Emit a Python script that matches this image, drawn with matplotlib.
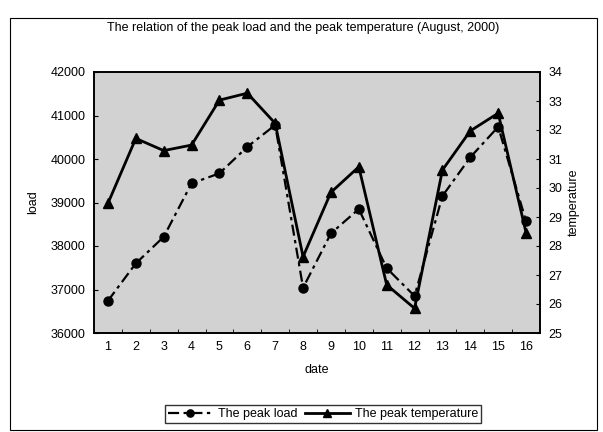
import matplotlib
matplotlib.use("Agg")
import matplotlib.pyplot as plt
from matplotlib.patches import Rectangle

plt.rcParams["font.family"] = ["Liberation Sans", "DejaVu Sans"]

dates = list(range(1, 17))
peak_load = [36740, 37600, 38210, 39440, 39670, 40280, 40780, 37040,
             38290, 38850, 37490, 36850, 39150, 40040, 40740, 38570]
peak_temp = [29.47, 31.71, 31.29, 31.48, 33.03, 33.27, 32.23, 27.63,
             29.85, 30.73, 26.66, 25.85, 30.62, 31.97, 32.58, 28.46]

fig = plt.figure(figsize=(6.03, 4.32), dpi=100)
ax = fig.add_axes([94 / 603, 1 - 333 / 432, 446 / 603, 261 / 432])
ax.set_facecolor("#d2d2d2")

l1, = ax.plot(dates, peak_load, color="black", linestyle=(0, (5, 2, 1.5, 2)),
              linewidth=1.6, marker="o", markersize=6.5, label="The peak load")
ax.set_xlim(0.5, 16.5)
ax.set_ylim(36000, 42000)
ax.set_yticks(range(36000, 42001, 1000))
ax.set_xticks(dates)
ax.set_xticks([d + 0.5 for d in dates[:-1]], minor=True)
ax.tick_params(axis="x", which="major", length=0, pad=6, labelsize=9)
ax.tick_params(axis="x", which="minor", direction="in", length=3)
ax.tick_params(axis="y", direction="in", length=3, labelsize=9, pad=6)
ax.set_ylabel("load", fontsize=9, labelpad=8)
ax.set_xlabel("date", fontsize=9, labelpad=8)

ax2 = ax.twinx()
l2, = ax2.plot(dates, peak_temp, color="black", linestyle="-", linewidth=2.0,
               marker="^", markersize=6.5, label="The peak temperature")
ax2.set_ylim(25, 34)
ax2.set_yticks(range(25, 35))
ax2.tick_params(axis="y", direction="in", length=3, labelsize=9, pad=6)
ax2.set_ylabel("temperature", fontsize=9, labelpad=4)

for a in (ax, ax2):
    for s in a.spines.values():
        s.set_linewidth(1.2)

fig.text(303 / 603, 1 - 28 / 432,
         "The relation of the peak load and the peak temperature (August, 2000)",
         ha="center", va="center", fontsize=9)

fig.legend(handles=[l1, l2], loc="center", bbox_to_anchor=(323 / 603, 1 - 414 / 432),
           ncol=2, fontsize=9, frameon=True, fancybox=False, edgecolor="black",
           handlelength=3.6, handletextpad=0.4, columnspacing=0.6,
           borderpad=0.25, markerscale=0.8)

fig.patches.append(Rectangle((10 / 603, 2 / 432), 587 / 603, 412 / 432,
                             transform=fig.transFigure, fill=False,
                             edgecolor="black", linewidth=0.8))

fig.savefig("out.png", dpi=100)
